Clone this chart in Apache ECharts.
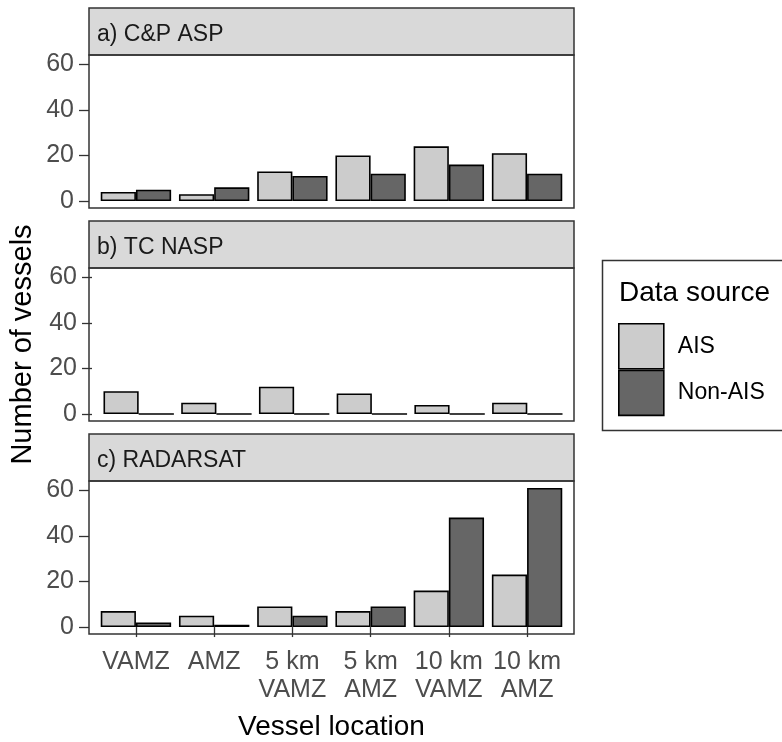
<!DOCTYPE html>
<html>
<head>
<meta charset="utf-8">
<script src="https://cdn.jsdelivr.net/npm/echarts@6/dist/echarts.min.js"></script>
<style>
html,body{margin:0;padding:0;background:#fff;}
#chart{width:782px;height:742px;}
</style>
</head>
<body>
<div id="chart"></div>
<script>
// ---- data ----
var categories = ['VAMZ', 'AMZ', '5 km\nVAMZ', '5 km\nAMZ', '10 km\nVAMZ', '10 km\nAMZ'];
var panelTitles = ['a) C&P ASP', 'b) TC NASP', 'c) RADARSAT'];
var seriesNames = ['AIS', 'Non-AIS'];
var aisCP = [4, 3, 13, 20, 24, 21];
var nonAisCP = [5, 6, 11, 12, 16, 12];
var aisTC = [10, 5, 12, 9, 4, 5];
var nonAisTC = [0, 0, 0, 0, 0, 0];
var aisRS = [7, 5, 9, 7, 16, 23];
var nonAisRS = [2, 1, 5, 9, 48, 61];
var yTicks = [0, 20, 40, 60];
var yMin = -3.05, yMax = 64.05;

// ---- layout ----
var FONT = '"Liberation Sans", Arial, sans-serif';
var panelLeft = 89, panelWidth = 485;
var unit = panelWidth / 6.2;
var gridLeft = panelLeft + 0.1 * unit;
var gridWidth = 6 * unit;
var stripTop = [8, 221, 434];
var stripH = 47, plotH = 153;
var colors = ['#cccccc', '#666666'];
var panelData = [[aisCP, nonAisCP], [aisTC, nonAisTC], [aisRS, nonAisRS]];

var grids = [], xAxes = [], yAxes = [], series = [], graphics = [];
for (var p = 0; p < 3; p++) {
  var plotTop = stripTop[p] + stripH;
  grids.push({left: gridLeft, width: gridWidth, top: plotTop, height: plotH, containLabel: false});
  var last = (p === 2);
  xAxes.push({
    type: 'category', gridIndex: p, data: categories,
    axisLine: {show: false},
    axisTick: {show: last, alignWithLabel: true, length: 10, lineStyle: {color: '#333333', width: 1.3}},
    axisLabel: {show: last, fontFamily: FONT, fontSize: 25, color: '#4d4d4d', margin: 14, lineHeight: 28, interval: 0},
    name: last ? 'Vessel location' : '', nameLocation: 'middle', nameGap: 79,
    nameTextStyle: {fontFamily: FONT, fontSize: 28, color: '#000'}
  });
  yAxes.push({
    type: 'value', gridIndex: p, min: yMin, max: yMax, offset: gridLeft - panelLeft,
    splitLine: {show: false},
    axisLine: {show: false},
    axisTick: {show: true, customValues: yTicks, length: 10, lineStyle: {color: '#333333', width: 1.3}},
    axisLabel: {fontFamily: FONT, fontSize: 25, color: '#4d4d4d', margin: 15, customValues: yTicks},
    name: p === 1 ? 'Number of vessels' : '', nameLocation: 'middle', nameGap: 55,
    nameTextStyle: {fontFamily: FONT, fontSize: 29, color: '#000'}
  });
  for (var s = 0; s < 2; s++) {
    series.push({
      type: 'bar', name: seriesNames[s], xAxisIndex: p, yAxisIndex: p,
      data: panelData[p][s], barWidth: 0.45 * unit, barGap: '0%',
      itemStyle: {color: colors[s], borderColor: '#000', borderWidth: 1.6},
      emphasis: {disabled: true}
    });
  }
  graphics.push({
    type: 'rect', z: 10, shape: {x: panelLeft, y: stripTop[p], width: panelWidth, height: stripH},
    style: {fill: '#d9d9d9', stroke: '#333333', lineWidth: 1.5}
  });
  graphics.push({
    type: 'text', z: 11, x: panelLeft + 8, y: stripTop[p] + 27,
    style: {text: panelTitles[p], font: '23px ' + FONT, fill: '#1a1a1a', verticalAlign: 'middle', align: 'left'}
  });
  graphics.push({
    type: 'rect', z: 10, shape: {x: panelLeft, y: plotTop, width: panelWidth, height: plotH},
    style: {fill: null, stroke: '#333333', lineWidth: 1.5}
  });
}
// legend box and title
graphics.push({
  type: 'rect', z: 1, shape: {x: 602.5, y: 260.5, width: 200, height: 170},
  style: {fill: '#fff', stroke: '#333333', lineWidth: 1.5}
});
graphics.push({
  type: 'text', z: 2, x: 619, y: 293,
  style: {text: 'Data source', font: '28px ' + FONT, fill: '#000', verticalAlign: 'middle', align: 'left'}
});

var option = {
  animation: false,
  backgroundColor: '#ffffff',
  grid: grids,
  xAxis: xAxes,
  yAxis: yAxes,
  series: series,
  legend: {
    data: seriesNames, orient: 'vertical', left: 618, top: 323,
    itemWidth: 45, itemHeight: 45, itemGap: 0, padding: 0, z: 5,
    icon: 'rect',
    itemStyle: {borderColor: '#000', borderWidth: 1.6},
    textStyle: {fontFamily: FONT, fontSize: 23, color: '#000', padding: [0, 0, 0, 9]},
    selectedMode: false
  },
  graphic: graphics
};
var chart = echarts.init(document.getElementById('chart'), null, {renderer: 'canvas'});
chart.setOption(option);
</script>
</body>
</html>
